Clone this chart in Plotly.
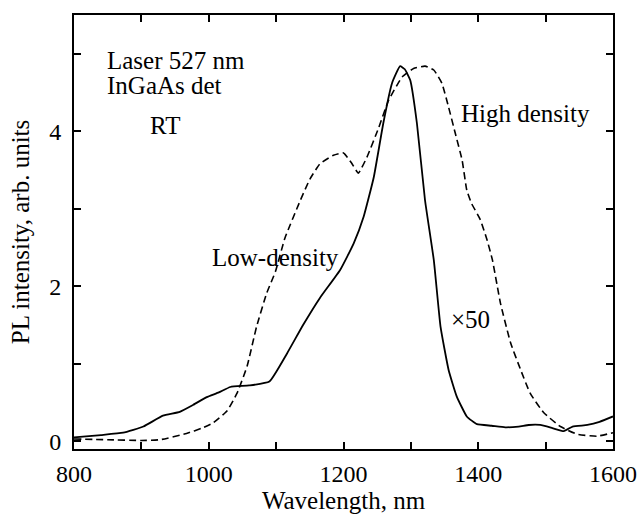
import plotly.graph_objects as go

# Low-density sample (x50), solid line
wl_low = [800, 840, 873, 903, 932, 957, 977, 997, 1015, 1032, 1060, 1090,
          1116, 1140, 1165, 1195, 1215, 1230, 1245, 1259, 1272, 1284, 1291,
          1299, 1309, 1321, 1334, 1344, 1356, 1368, 1383, 1398, 1420, 1440,
          1460, 1475, 1492, 1510, 1527, 1540, 1562, 1580, 1600]
pl_low = [0.05, 0.08, 0.11, 0.19, 0.33, 0.38, 0.47, 0.57, 0.63, 0.70, 0.72, 0.77,
          1.13, 1.50, 1.85, 2.21, 2.55, 2.90, 3.41, 4.10, 4.62, 4.84, 4.80,
          4.66, 4.10, 3.11, 2.34, 1.48, 0.92, 0.58, 0.32, 0.22, 0.20, 0.18,
          0.19, 0.21, 0.21, 0.17, 0.13, 0.19, 0.21, 0.25, 0.32]

# High-density sample, dashed line
wl_high = [800, 850, 900, 928, 967, 990, 1007, 1027, 1042, 1057, 1071, 1086,
           1099, 1113, 1136, 1150, 1165, 1185, 1200, 1212, 1222, 1235, 1252, 1267,
           1287, 1304, 1321, 1334, 1346, 1356, 1366, 1376, 1383, 1390, 1403,
           1413, 1421, 1433, 1448, 1463, 1477, 1497, 1522, 1547, 1576, 1600]
pl_high = [0.03, 0.02, 0.01, 0.02, 0.10, 0.17, 0.24, 0.39, 0.62, 0.97, 1.48, 1.91,
           2.19, 2.62, 3.11, 3.38, 3.58, 3.69, 3.72, 3.59, 3.46, 3.67, 4.04, 4.40,
           4.70, 4.81, 4.84, 4.79, 4.62, 4.31, 3.97, 3.63, 3.24, 3.07, 2.86,
           2.60, 2.34, 1.78, 1.27, 0.92, 0.62, 0.37, 0.19, 0.09, 0.065, 0.11]

FONT = "Liberation Serif"
FS = 24

fig = go.Figure()
fig.add_trace(go.Scatter(
    x=wl_high, y=pl_high, mode="lines",
    line=dict(color="black", width=1.6, dash="7px,4px", shape="spline", smoothing=0.4),
    showlegend=False,
))
fig.add_trace(go.Scatter(
    x=wl_low, y=pl_low, mode="lines",
    line=dict(color="black", width=1.8, shape="spline", smoothing=0.4),
    showlegend=False,
))

labels = [
    ("Laser 527 nm", 846, 4.91),
    ("InGaAs det", 846, 4.59),
    ("RT", 910, 4.08),
    ("Low-density", 1002, 2.37),
    ("High density", 1372, 4.23),
    ("×50", 1356, 1.57),
]
for text, x, y in labels:
    fig.add_annotation(x=x, y=y, text=text, showarrow=False,
                       xanchor="left", yanchor="middle",
                       font=dict(family=FONT, size=25, color="black"))

axis_style = dict(
    showline=True, linecolor="black", linewidth=2, mirror="allticks",
    ticks="inside", ticklen=7, tickwidth=1.5, tickcolor="black",
    showgrid=False, zeroline=False, automargin=False,
    tickfont=dict(family=FONT, size=FS, color="black"),
)

fig.update_xaxes(
    range=[800, 1600], tick0=800, dtick=200, ticklabelstandoff=2,
    minor=dict(dtick=100, ticks="inside", ticklen=7, tickwidth=1.5, tickcolor="black"),
    title=dict(text="Wavelength, nm", font=dict(family=FONT, size=25, color="black"), standoff=2),
    **axis_style,
)
fig.update_yaxes(
    range=[-0.1, 5.5], tick0=0, dtick=2, ticklabelstandoff=6,
    minor=dict(dtick=1, ticks="inside", ticklen=7, tickwidth=1.5, tickcolor="black"),
    title=dict(text="PL intensity, arb. units", font=dict(family=FONT, size=25, color="black"), standoff=12),
    **axis_style,
)

fig.update_layout(
    width=640, height=515,
    margin=dict(l=74, r=27, t=15, b=66),
    plot_bgcolor="white", paper_bgcolor="white",
)

# drop the default page margin so the 640x515 figure fills the window exactly
fig.write_html(
    "out.html",
    config={"displayModeBar": False},
    post_script="document.body.style.margin='0';document.body.style.overflow='hidden';",
)
